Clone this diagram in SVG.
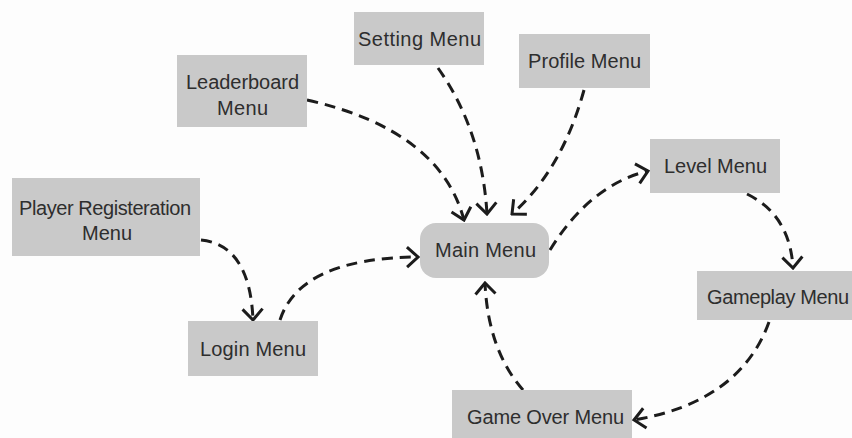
<svg xmlns="http://www.w3.org/2000/svg" width="852" height="438" viewBox="0 0 852 438">
  <style>
    .box { fill: #c9c9c9; }
    .label { font-family: "Liberation Sans", Arial, sans-serif; font-size: 20px; fill: #2e2e2e; text-anchor: middle; }
    .link { fill: none; stroke: #1c1c1c; stroke-width: 3; stroke-dasharray: 11 7; }
  </style>
  <defs>
    <marker id="chevron" markerUnits="userSpaceOnUse" viewBox="-14 -12 16 24" markerWidth="16" markerHeight="24" refX="0" refY="0" orient="auto">
      <path d="M-11,-10 L0,0 L-11,10" fill="none" stroke="#1c1c1c" stroke-width="3" stroke-dasharray="none" stroke-linecap="butt"/>
    </marker>
  </defs>

  <rect width="852" height="438" fill="#fdfdfd"/>

  <g id="connectors">
    <path class="link" marker-end="url(#chevron)" d="M307,100 Q440,130 464,220"/>
    <path class="link" marker-end="url(#chevron)" d="M438,68 Q482,130 487,214"/>
    <path class="link" marker-end="url(#chevron)" d="M584,90 Q562,170 512,214"/>
    <path class="link" marker-end="url(#chevron)" d="M550,250 Q590,185 648,171"/>
    <path class="link" marker-end="url(#chevron)" d="M747,194 Q790,215 793,268"/>
    <path class="link" marker-end="url(#chevron)" d="M769,322 Q740,402 634,420"/>
    <path class="link" marker-end="url(#chevron)" d="M523,390 Q488,350 485,283"/>
    <path class="link" marker-end="url(#chevron)" d="M201,240 Q250,245 253,320"/>
    <path class="link" marker-end="url(#chevron)" d="M280,320 Q300,258 418,257"/>
  </g>

  <g id="setting-menu">
    <rect class="box" x="354" y="12" width="130" height="53"/>
    <text class="label" x="419.5" y="46" textLength="123">Setting Menu</text>
  </g>
  <g id="profile-menu">
    <rect class="box" x="519" y="34" width="131" height="54"/>
    <text class="label" x="584.5" y="68" textLength="113">Profile Menu</text>
  </g>
  <g id="leaderboard-menu">
    <rect class="box" x="177" y="55" width="130" height="72"/>
    <text class="label" x="242.5" y="89" textLength="113">Leaderboard</text>
    <text class="label" x="242.5" y="115" textLength="51">Menu</text>
  </g>
  <g id="player-registeration-menu">
    <rect class="box" x="12" y="178" width="188" height="78"/>
    <text class="label" x="105" y="215" textLength="172">Player Registeration</text>
    <text class="label" x="107" y="240" textLength="50">Menu</text>
  </g>
  <g id="login-menu">
    <rect class="box" x="188" y="321" width="130" height="55"/>
    <text class="label" x="253" y="356" textLength="106">Login Menu</text>
  </g>
  <g id="main-menu">
    <rect class="box" x="420" y="223" width="129" height="55" rx="16" ry="16"/>
    <text class="label" x="485.5" y="257" textLength="101">Main Menu</text>
  </g>
  <g id="level-menu">
    <rect class="box" x="650" y="139" width="130" height="54"/>
    <text class="label" x="715.5" y="173" textLength="103">Level Menu</text>
  </g>
  <g id="gameplay-menu">
    <rect class="box" x="697" y="271" width="170" height="49"/>
    <text class="label" x="707" y="304" style="text-anchor: start" textLength="142">Gameplay Menu</text>
  </g>
  <g id="game-over-menu">
    <rect class="box" x="452" y="390" width="180" height="60"/>
    <text class="label" x="545.5" y="424" textLength="157">Game Over Menu</text>
  </g>
</svg>
